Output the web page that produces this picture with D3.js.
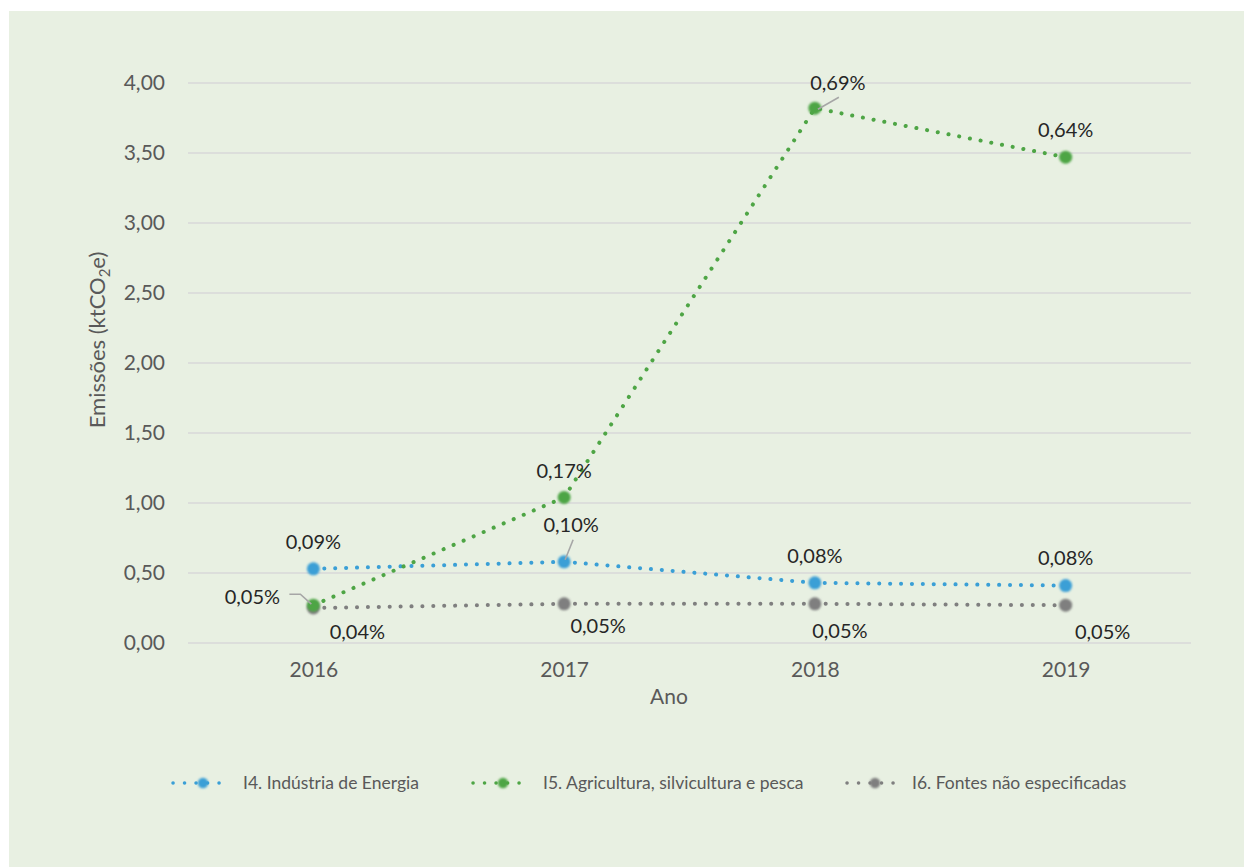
<!DOCTYPE html>
<html>
<head>
<meta charset="utf-8">
<script src="https://cdn.jsdelivr.net/npm/d3@7"></script>
<style>
  html, body { margin: 0; padding: 0; background: #ffffff; }
  svg { display: block; }
  text { font-family: Lato, "Open Sans", "Noto Sans", sans-serif; }
</style>
</head>
<body>
<svg id="chart" width="1244" height="867"></svg>
<script>
// ---- Data ----
const years = ["2016", "2017", "2018", "2019"];
const energiaValues = [0.53, 0.58, 0.43, 0.41];
const agriculturaValues = [0.27, 1.04, 3.82, 3.47];
const fontesValues = [0.25, 0.28, 0.28, 0.27];
const energiaLabels = ["0,09%", "0,10%", "0,08%", "0,08%"];
const agriculturaLabels = ["0,05%", "0,17%", "0,69%", "0,64%"];
const fontesLabels = ["0,04%", "0,05%", "0,05%", "0,05%"];
const seriesNames = ["I4. Indústria de Energia", "I5. Agricultura, silvicultura e pesca", "I6. Fontes não especificadas"];
const yTicks = [0, 0.5, 1, 1.5, 2, 2.5, 3, 3.5, 4];

// ---- Styling / layout (not data) ----
const colors = ["#3A9FD6", "#4EA545", "#7F7F7F"];
// label centre offsets relative to the point (dx, dy), plus optional leader line
const labelPlacement = [
  [{dx:0,dy:-27},{dx:7,dy:-37,leader:[[9,-22],[1,-2]]},{dx:0,dy:-27},{dx:0,dy:-28}],
  [{dx:-61,dy:-8,leader:[[-24,-11],[-13,-11],[-2,-1]]},{dx:0,dy:-26},{dx:23,dy:-25,leader:[[24,-11],[3,1]]},{dx:0,dy:-27}],
  [{dx:44,dy:24},{dx:34,dy:22},{dx:25,dy:27},{dx:37,dy:27}]
];

const svg = d3.select("#chart");
const W = 1244, H = 867;

// background panel
svg.append("rect").attr("x", 9).attr("y", 11).attr("width", W - 9).attr("height", H - 11).attr("fill", "#E8F0E2");

const defs = svg.append("defs");
const f = defs.append("filter").attr("id", "soft").attr("x", "-50%").attr("y", "-50%").attr("width", "200%").attr("height", "200%");
f.append("feGaussianBlur").attr("stdDeviation", 1.2);

const x = d3.scalePoint().domain(years).range([188, 1191]).padding(0.5);
const y = d3.scaleLinear().domain([0, 4]).range([643, 83]);
const fmt = v => d3.format(".2f")(v).replace(".", ",");

// gridlines
svg.append("g").selectAll("line").data(yTicks).join("line")
  .attr("x1", 188).attr("x2", 1191)
  .attr("y1", d => y(d)).attr("y2", d => y(d))
  .attr("stroke", "#D9D9D9").attr("stroke-width", 1.6);

// y axis
const yAxis = svg.append("g").attr("transform", "translate(165,0)")
  .call(d3.axisLeft(y).tickValues(yTicks).tickFormat(fmt).tickSize(0).tickPadding(0));
yAxis.select(".domain").remove();
yAxis.selectAll("text").attr("font-size", 21).attr("fill", "#595959")
  .attr("font-family", "Lato, 'Open Sans', sans-serif");

// x axis
const xAxis = svg.append("g").attr("transform", "translate(0,662)")
  .call(d3.axisBottom(x).tickSize(0).tickPadding(0));
xAxis.select(".domain").remove();
xAxis.selectAll("text").attr("font-size", 21).attr("fill", "#595959")
  .attr("font-family", "Lato, 'Open Sans', sans-serif");

// axis titles
svg.append("text").attr("transform", "translate(105,340) rotate(-90)")
  .attr("text-anchor", "middle").attr("font-size", 22).attr("fill", "#595959")
  .html('Emissões (ktCO<tspan font-size="15" dy="5">2</tspan><tspan dy="-5">e)</tspan>');
svg.append("text").attr("x", 669).attr("y", 704).attr("text-anchor", "middle")
  .attr("font-size", 21).attr("fill", "#595959").text("Ano");

const allValues = [energiaValues, agriculturaValues, fontesValues];
const allLabels = [energiaLabels, agriculturaLabels, fontesLabels];
const line = d3.line().x((d, i) => x(years[i])).y(d => y(d));

// draw order: gray, blue, green
const drawOrder = [2, 0, 1];
drawOrder.forEach(s => {
  svg.append("path").datum(allValues[s]).attr("d", line)
    .attr("fill", "none").attr("stroke", colors[s]).attr("stroke-width", 4)
    .attr("stroke-linecap", "round").attr("stroke-dasharray", "0.1 10.8");
});
drawOrder.forEach(s => {
  svg.append("g").selectAll("circle").data(allValues[s]).join("circle")
    .attr("cx", (d, i) => x(years[i])).attr("cy", d => y(d)).attr("r", 6.5)
    .attr("fill", colors[s]).attr("filter", "url(#soft)");
});

// leader lines and labels
allValues.forEach((vals, s) => {
  vals.forEach((v, i) => {
    const px = x(years[i]), py = y(v);
    const p = labelPlacement[s][i];
    if (p.leader) {
      svg.append("path")
        .attr("d", d3.line()(p.leader.map(q => [px + q[0], py + q[1]])))
        .attr("fill", "none").attr("stroke", "#A6A6A6").attr("stroke-width", 1.6);
    }
    svg.append("text").attr("x", px + p.dx).attr("y", py + p.dy)
      .attr("dy", "0.35em").attr("text-anchor", "middle")
      .attr("font-size", 20).attr("fill", "#262626").text(allLabels[s][i]);
  });
});

// legend
const legendItems = [
  {x0: 173, x1: 230, mx: 203, tx: 243},
  {x0: 473, x1: 530, mx: 503, tx: 543},
  {x0: 847, x1: 900, mx: 875, tx: 912}
];
const ly = 783;
legendItems.forEach((it, s) => {
  svg.append("line").attr("x1", it.x0).attr("x2", it.x1).attr("y1", ly).attr("y2", ly)
    .attr("stroke", colors[s]).attr("stroke-width", 3.5).attr("stroke-linecap", "round")
    .attr("stroke-dasharray", "0.1 11.4");
  svg.append("circle").attr("cx", it.mx).attr("cy", ly).attr("r", 5.2)
    .attr("fill", colors[s]).attr("filter", "url(#soft)");
  svg.append("text").attr("x", it.tx).attr("y", ly).attr("dy", "0.35em")
    .attr("font-size", 17.5).attr("fill", "#595959").text(seriesNames[s]);
});
</script>
</body>
</html>
